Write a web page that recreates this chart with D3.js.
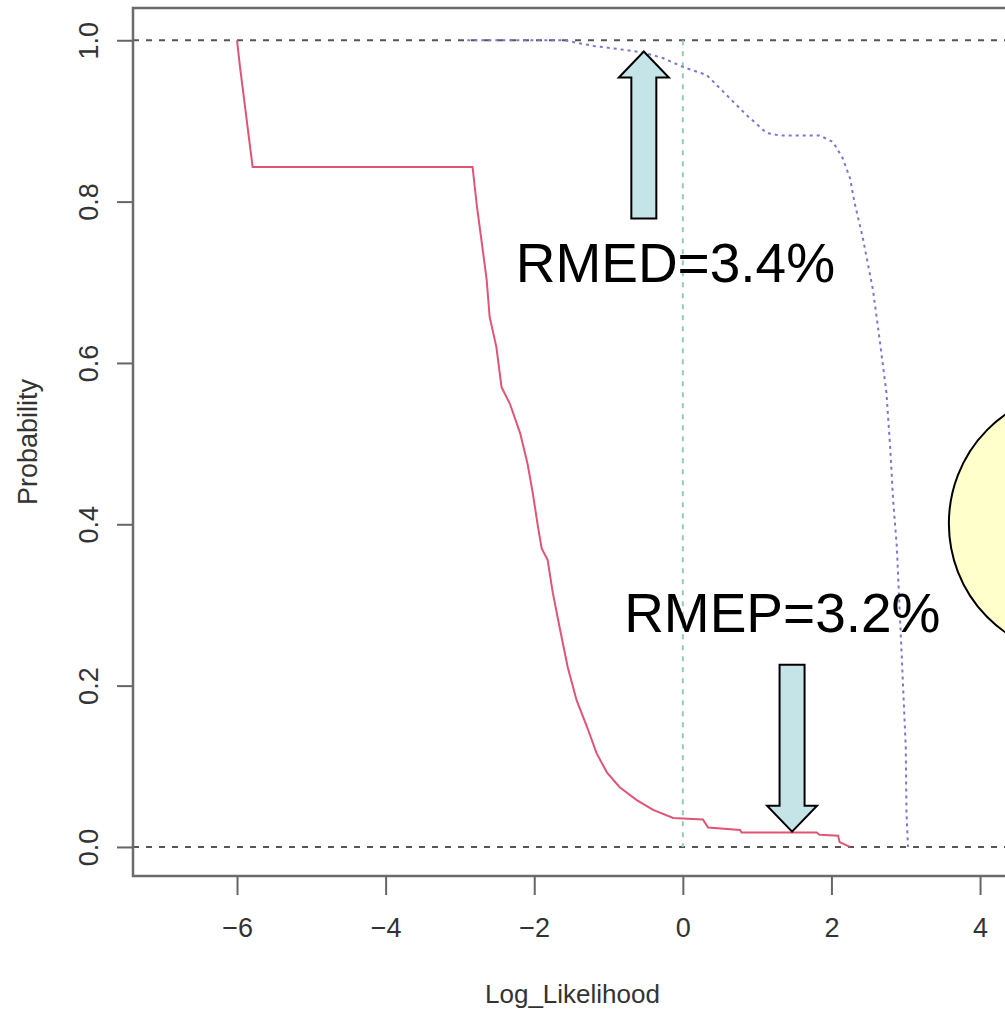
<!DOCTYPE html>
<html>
<head>
<meta charset="utf-8">
<script src="https://cdn.jsdelivr.net/npm/d3@7"></script>
<style>
  body { margin: 0; background: white; }
  svg { display: block; font-family: "Liberation Sans", Arial, sans-serif; }
</style>
</head>
<body>
<script>
// data
const xTicks = [-6, -4, -2, 0, 2, 4];
const yTicks = [0, 0.2, 0.4, 0.6, 0.8, 1.0];

// red curve (solid)
const redX = [-6.0, -5.96, -5.79, -2.83, -2.77, -2.71, -2.64, -2.60, -2.51, -2.44, -2.33, -2.19, -2.09, -2.02, -1.95, -1.90, -1.82, -1.75, -1.66, -1.55, -1.43, -1.29, -1.16, -1.02, -0.85, -0.62, -0.40, -0.13, 0.27, 0.34, 0.77, 0.79, 1.80, 1.84, 2.09, 2.11, 2.25];
const redP = [1.0, 0.967, 0.843, 0.843, 0.793, 0.752, 0.703, 0.657, 0.620, 0.570, 0.550, 0.513, 0.475, 0.439, 0.397, 0.370, 0.356, 0.315, 0.273, 0.223, 0.182, 0.149, 0.116, 0.092, 0.074, 0.058, 0.046, 0.036, 0.034, 0.024, 0.021, 0.018, 0.018, 0.015, 0.014, 0.006, 0.0];

// blue curve (dotted)
const blueX = [-2.9, -1.6, -1.2, -0.94, -0.54, -0.27, 0.0, 0.32, 0.59, 0.86, 1.13, 1.30, 1.84, 2.02, 2.15, 2.25, 2.31, 2.42, 2.56, 2.65, 2.74, 2.79, 2.83, 2.88, 2.92, 2.96, 3.00, 3.01, 3.03];
const blueP = [1.0, 1.0, 0.993, 0.990, 0.985, 0.978, 0.967, 0.957, 0.932, 0.907, 0.885, 0.882, 0.882, 0.874, 0.854, 0.829, 0.799, 0.756, 0.690, 0.628, 0.563, 0.496, 0.430, 0.372, 0.290, 0.207, 0.124, 0.042, 0.0];

const refLinesP = [0, 1];
const vLineX = 0;

// annotation labels (anchored in data units)
const labels = ["RMED=3.4%", "RMEP=3.2%"];
const labelX = [-2.25, -0.79];
const labelP = [0.700, 0.266];
// arrows: tip position and direction
const arrowX = [-0.525, 1.47];
const arrowP = [0.986, 0.019];
const arrowDir = ["up", "down"];
// ellipse centre
const ellipseX = 5.33, ellipseP = 0.401;

const w = 1005, h = 1010;
const plotLeft = 133, plotRight = 1012, plotTop = 8, plotBottom = 876;

const svg = d3.select("body")
  .append("svg")
  .attr("width", w)
  .attr("height", h);

svg.append("rect")
  .attr("width", w)
  .attr("height", h)
  .attr("fill", "white");

const xScale = d3.scaleLinear()
  .domain([-7.4, 4.43])
  .range([plotLeft, plotRight]);

const yScale = d3.scaleLinear()
  .domain([-0.036, 1.04])
  .range([plotBottom, plotTop]);

// reference lines
svg.selectAll(".hline")
  .data(refLinesP)
  .enter()
  .append("line")
  .attr("class", "hline")
  .attr("x1", plotLeft)
  .attr("x2", plotRight)
  .attr("y1", d => yScale(d))
  .attr("y2", d => yScale(d))
  .attr("stroke", "#555")
  .attr("stroke-width", 2)
  .attr("stroke-dasharray", "6,7");

svg.append("line")
  .attr("x1", xScale(vLineX))
  .attr("x2", xScale(vLineX))
  .attr("y1", yScale(1))
  .attr("y2", yScale(0))
  .attr("stroke", "#8fd0ad")
  .attr("stroke-width", 2)
  .attr("stroke-dasharray", "5,6");

const line = d3.line()
  .x(d => xScale(d[0]))
  .y(d => yScale(d[1]));

svg.append("path")
  .datum(blueX.map((x, i) => [x, blueP[i]]))
  .attr("d", line)
  .attr("fill", "none")
  .attr("stroke", "#7878d0")
  .attr("stroke-width", 2)
  .attr("stroke-dasharray", "3,4");

svg.append("path")
  .datum(redX.map((x, i) => [x, redP[i]]))
  .attr("d", line)
  .attr("fill", "none")
  .attr("stroke", "#e05574")
  .attr("stroke-width", 2);

// frame
svg.append("rect")
  .attr("x", plotLeft)
  .attr("y", plotTop)
  .attr("width", plotRight - plotLeft)
  .attr("height", plotBottom - plotTop)
  .attr("fill", "none")
  .attr("stroke", "#6b6b6b")
  .attr("stroke-width", 2.5);

// axes
const xAxis = d3.axisBottom(xScale)
  .tickValues(xTicks)
  .tickSize(19)
  .tickFormat(d => d < 0 ? "\u2212" + Math.abs(d) : d);

const gx = svg.append("g")
  .attr("transform", "translate(0," + plotBottom + ")")
  .call(xAxis);
gx.select(".domain").remove();
gx.selectAll(".tick line").attr("stroke", "#666").attr("stroke-width", 2);
gx.selectAll(".tick text")
  .attr("y", 61)
  .attr("dy", null)
  .attr("fill", "#333")
  .style("font-size", "27px")
  .style("font-family", "Liberation Sans, Arial, sans-serif");

const yAxis = d3.axisLeft(yScale)
  .tickValues(yTicks)
  .tickSize(16)
  .tickFormat(d3.format(".1f"));

const gy = svg.append("g")
  .attr("transform", "translate(" + plotLeft + ",0)")
  .call(yAxis);
gy.select(".domain").remove();
gy.selectAll(".tick line").attr("stroke", "#666").attr("stroke-width", 2);
gy.selectAll(".tick text")
  .attr("x", 0)
  .attr("dy", null)
  .attr("text-anchor", "middle")
  .attr("transform", "translate(-35,0) rotate(-90)")
  .attr("fill", "#333")
  .style("font-size", "27px")
  .style("font-family", "Liberation Sans, Arial, sans-serif");

// axis titles
svg.append("text")
  .attr("x", (plotLeft + plotRight) / 2)
  .attr("y", 1003)
  .attr("text-anchor", "middle")
  .attr("fill", "#333")
  .style("font-size", "26px")
  .text("Log_Likelihood");

svg.append("text")
  .attr("transform", "translate(37," + (plotTop + plotBottom) / 2 + ") rotate(-90)")
  .attr("text-anchor", "middle")
  .attr("fill", "#333")
  .style("font-size", "27px")
  .text("Probability");

// ellipse callout
svg.append("ellipse")
  .attr("cx", xScale(ellipseX))
  .attr("cy", yScale(ellipseP))
  .attr("rx", 130)
  .attr("ry", 132)
  .attr("fill", "#ffffcc")
  .attr("stroke", "black")
  .attr("stroke-width", 2);

// block arrows
function arrowPath(tx, ty, dir) {
  const s = dir === "up" ? 1 : -1;
  const hw = 25, hh = 26, sw = 12.5, sl = 141;
  const pts = [
    [tx, ty],
    [tx + hw, ty + s * hh],
    [tx + sw, ty + s * hh],
    [tx + sw, ty + s * (hh + sl)],
    [tx - sw, ty + s * (hh + sl)],
    [tx - sw, ty + s * hh],
    [tx - hw, ty + s * hh]
  ];
  return "M" + pts.map(p => p.join(",")).join("L") + "Z";
}

svg.selectAll(".arrow")
  .data(arrowX)
  .enter()
  .append("path")
  .attr("class", "arrow")
  .attr("d", (d, i) => arrowPath(xScale(d), yScale(arrowP[i]), arrowDir[i]))
  .attr("fill", "#c4e4e7")
  .attr("stroke", "black")
  .attr("stroke-width", 2)
  .attr("stroke-linejoin", "miter");

svg.selectAll(".label")
  .data(labels)
  .enter()
  .append("text")
  .attr("class", "label")
  .attr("x", (d, i) => xScale(labelX[i]))
  .attr("y", (d, i) => yScale(labelP[i]))
  .attr("fill", "black")
  .style("font-size", "55px")
  .text(d => d);
</script>
</body>
</html>
